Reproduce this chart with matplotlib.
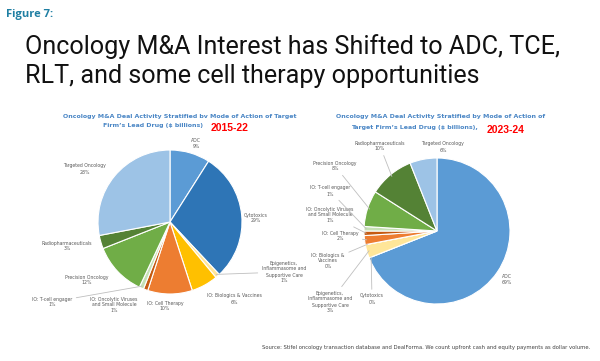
import matplotlib
matplotlib.use("Agg")
import matplotlib.pyplot as plt
import numpy as np

# ---------------- data ----------------
categories = ["ADC", "Cytotoxics", "Epigenetics,\nInflammasome and\nSupportive Care",
              "IO: Biologics & Vaccines", "IO: Cell Therapy",
              "IO: Oncolytic Viruses\nand Small Molecule", "IO: T-cell engager",
              "Precision Oncology", "Radiopharmaceuticals", "Targeted Oncology"]
share_2015_22 = [9, 29, 1, 6, 10, 1, 1, 12, 3, 28]
share_2023_24 = [69, 0, 3, 0, 2, 1, 1, 8, 10, 6]
labels_right = ["ADC", "Cytotoxics", "Epigenetics,\nInflammasome and\nSupportive Care",
                "IO: Biologics &\nVaccines", "IO: Cell Therapy",
                "IO: Oncolytic Viruses\nand Small Molecule", "IO: T-cell engager",
                "Precision Oncology", "Radiopharmaceuticals", "Targeted Oncology"]
colors = ["#5B9BD5", "#2E75B6", "#FFE699", "#FFC000", "#ED7D31",
          "#C55A11", "#C5E0B4", "#70AD47", "#548235", "#9DC3E6"]

# ---------------- layout (pixel coords, y from top) ----------------
W, H = 600, 361
left_center, left_r = (170, 222), 72
right_center, right_r = (437, 231), 73
left_label_pos = [(196, 143), (256, 218), (284, 272), (234, 299), (165, 306),
                  (114, 305), (52, 302), (87, 280), (67, 246), (85, 169)]
left_leader = [False, False, True, False, False, False, True, False, False, False]
right_label_pos = [(507, 279), (372, 299), (330, 302), (328, 261), (340, 236),
                   (330, 215), (330, 191), (335, 166), (380, 146), (443, 147)]
right_leader = [False, True, True, True, True, True, True, True, True, False]

fig = plt.figure(figsize=(W / 100, H / 100), dpi=100)
fig.patch.set_facecolor("white")
ax = fig.add_axes([0, 0, 1, 1])


def Y(y):
    return H - y


label_color = "#595959"
line_color = "#BFBFBF"


def draw_pie(values, labels, center, r, label_pos, leader):
    cx, cy = center
    wedges, _ = ax.pie(values, colors=colors, startangle=90, counterclock=False,
                       center=(cx, Y(cy)), radius=r,
                       wedgeprops=dict(edgecolor="white", linewidth=0.8))
    for w, lab, v, (tx, ty), ld in zip(wedges, labels, values, label_pos, leader):
        txt = f"{lab}\n{v}%"
        if ld:
            theta = np.deg2rad((w.theta1 + w.theta2) / 2)
            px = cx + r * 0.97 * np.cos(theta)
            py = Y(cy) + r * 0.97 * np.sin(theta)
            ax.annotate(txt, xy=(px, py), xytext=(tx, Y(ty)), ha="center", va="center",
                        fontsize=3.3, color=label_color, linespacing=1.25,
                        arrowprops=dict(arrowstyle="-", color=line_color, lw=0.6,
                                        shrinkA=1, shrinkB=0))
        else:
            ax.text(tx, Y(ty), txt, ha="center", va="center", fontsize=3.3,
                    color=label_color, linespacing=1.25)


draw_pie(share_2015_22, categories, left_center, left_r, left_label_pos, left_leader)
draw_pie(share_2023_24, labels_right, right_center, right_r, right_label_pos, right_leader)

ax.set_xlim(0, W)
ax.set_ylim(0, H)
ax.set_aspect("equal")
ax.set_axis_off()

# ---------------- texts ----------------
title_font = "Roboto"
fig.text(6 / W, 1 - 15 / H, "Figure 7:", fontsize=8, fontweight="bold",
         color="#1F7FA3", va="center", ha="left", family="Open Sans")
fig.text(25 / W, 1 - 47 / H, "Oncology M&A Interest has Shifted to ADC, TCE,",
         fontsize=18.1, color="#111111", va="center", ha="left", family=title_font)
fig.text(25 / W, 1 - 76 / H, "RLT, and some cell therapy opportunities",
         fontsize=18.1, color="#111111", va="center", ha="left", family=title_font)

sub_color = "#4A86C5"
fig.text(180 / W, 1 - 116 / H,
         "Oncology M&A Deal Activity Stratified bv Mode of Action of Target",
         fontsize=4.5, fontweight="bold", color=sub_color, ha="center", va="center")
fig.text(153 / W, 1 - 126 / H, "Firm\u2019s Lead Drug ($ billions)",
         fontsize=4.5, fontweight="bold", color=sub_color, ha="center", va="center")
fig.text(230 / W, 1 - 128 / H, "2015-22", fontsize=7.5, fontweight="bold",
         color="#FF0000", ha="center", va="center", family="Liberation Sans")

fig.text(441 / W, 1 - 116 / H,
         "Oncology M&A Deal Activity Stratified by Mode of Action of",
         fontsize=4.5, fontweight="bold", color=sub_color, ha="center", va="center")
fig.text(414 / W, 1 - 127 / H, "Target Firm\u2019s Lead Drug ($ billions),",
         fontsize=4.5, fontweight="bold", color=sub_color, ha="center", va="center")
fig.text(506 / W, 1 - 130 / H, "2023-24", fontsize=7.5, fontweight="bold",
         color="#FF0000", ha="center", va="center", family="Liberation Sans")

fig.text(590 / W, 1 - 347 / H,
         "Source: Stifel oncology transaction database and DealForma. We count upfront cash and equity payments as dollar volume.",
         fontsize=3.8, color="#404040", ha="right", va="center")

fig.savefig("out.png", dpi=100, facecolor="white")
